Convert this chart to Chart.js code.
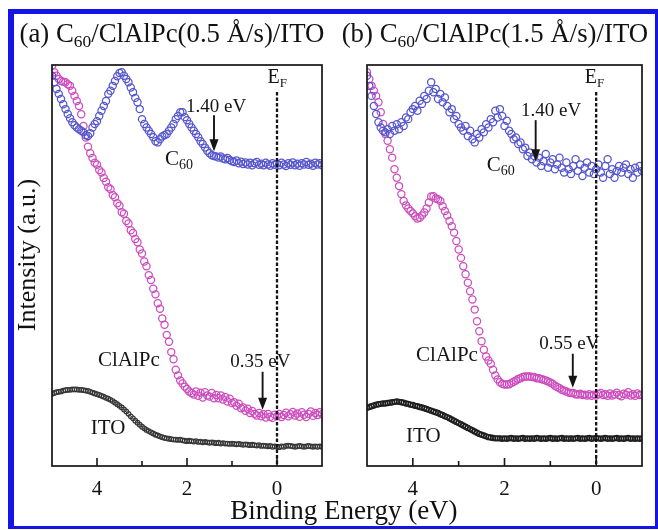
<!DOCTYPE html>
<html>
<head>
<meta charset="utf-8">
<title>UPS spectra C60/ClAlPc/ITO</title>
<script src="https://cdn.jsdelivr.net/npm/chart.js@4.4.1/dist/chart.umd.min.js"></script>
<style>
  html, body { margin:0; padding:0; background:#fff; }
  #wrap { position:relative; width:658px; height:530px; overflow:hidden; background:#fff;
          font-family:"Liberation Serif","Times New Roman",serif; color:#111; }
  canvas { position:absolute; top:0; }
  .txt { position:absolute; white-space:nowrap; }
  .sub { font-size:0.65em; vertical-align:-5px; line-height:1; }
  #frame { position:absolute; left:8px; top:9px; width:650px; height:520px; box-sizing:border-box;
           border-style:solid; border-color:#1414e6; border-width:5px 3px 3px 6px; pointer-events:none; }
</style>
</head>
<body>
<div id="wrap">
  <canvas id="chartA" width="335" height="530" style="left:0;width:335px;height:530px"></canvas>
  <canvas id="chartB" width="323" height="530" style="left:335px;width:323px;height:530px"></canvas>
  <div class="txt" style="left:19.5px;top:19.8px;font-size:26.8px;line-height:26.8px">(a) C<span class="sub">60</span>/ClAlPc(0.5 Å/s)/ITO</div>
  <div class="txt" style="left:341.7px;top:19.8px;font-size:26.8px;line-height:26.8px">(b) C<span class="sub">60</span>/ClAlPc(1.5 Å/s)/ITO</div>
  <div class="txt" style="left:-72.6px;top:242px;width:200px;height:26px;font-size:26px;line-height:26px;text-align:center;transform:rotate(-90deg)">Intensity (a.u.)</div>
  <div class="txt" style="left:193.9px;top:497.4px;width:300px;font-size:27px;line-height:27px;text-align:center">Binding Energy (eV)</div>
  <div id="frame"></div>
</div>
<script>
// Binding energy (eV) of each sample point
const ENERGY = [
  5.00,4.95,4.90,4.85,4.80,4.75,4.70,4.65,4.60,4.55,
  4.50,4.45,4.40,4.35,4.30,4.25,4.20,4.15,4.10,4.05,
  4.00,3.95,3.90,3.85,3.80,3.75,3.70,3.65,3.60,3.55,
  3.50,3.45,3.40,3.35,3.30,3.25,3.20,3.15,3.10,3.05,
  3.00,2.95,2.90,2.85,2.80,2.75,2.70,2.65,2.60,2.55,
  2.50,2.45,2.40,2.35,2.30,2.25,2.20,2.15,2.10,2.05,
  2.00,1.95,1.90,1.85,1.80,1.75,1.70,1.65,1.60,1.55,
  1.50,1.45,1.40,1.35,1.30,1.25,1.20,1.15,1.10,1.05,
  1.00,0.95,0.90,0.85,0.80,0.75,0.70,0.65,0.60,0.55,
  0.50,0.45,0.40,0.35,0.30,0.25,0.20,0.15,0.10,0.05,
  0.00,-0.05,-0.10,-0.15,-0.20,-0.25,-0.30,-0.35,-0.40,-0.45,
  -0.50,-0.55,-0.60,-0.65,-0.70,-0.75,-0.80,-0.85,-0.90,-0.95,
  -1.00
];

// Panel (a): 0.5 Å/s
const A_C60 = [
  97.3,95.7,94.0,92.8,91.5,90.2,89.0,87.8,86.7,85.7,
  85.0,84.4,84.0,83.6,83.2,82.5,82.3,83.0,84.4,85.3,
  86.0,87.3,88.6,89.8,91.0,92.8,93.6,94.8,96.0,97.2,
  98.0,98.2,97.3,96.5,95.7,94.4,93.2,91.8,90.7,89.0,
  86.5,85.3,84.4,83.6,82.8,82.0,81.0,80.7,81.5,82.2,
  82.5,82.8,83.6,84.4,85.3,86.5,87.3,88.2,88.2,87.0,
  86.2,85.3,84.4,83.6,82.8,82.0,81.0,80.3,79.4,78.6,
  78.0,77.5,77.3,77.2,76.9,77.2,76.7,76.5,76.8,76.3,
  76.0,75.8,76.2,75.5,75.9,75.3,75.7,75.2,75.6,75.0,
  75.5,75.8,75.1,75.4,75.0,75.6,75.2,74.9,75.5,75.1,
  75.4,75.0,75.6,75.2,74.8,75.5,75.1,75.7,75.0,75.4,
  74.9,75.5,75.2,75.8,75.1,75.4,74.9,75.6,75.2,75.5,
  75.0
];
const A_CLALPC = [
  99.8,98.2,97.3,96.5,96.0,95.8,95.7,95.2,94.8,93.6,
  92.3,91.0,89.8,87.7,84.8,81.9,79.6,78.0,76.8,75.6,
  75.1,73.8,73.2,71.8,70.9,69.5,69.0,67.6,67.0,65.5,
  64.9,63.3,62.9,61.1,60.5,58.8,58.1,56.6,55.8,54.0,
  53.0,51.0,49.8,47.6,46.4,44.2,42.8,40.6,39.2,36.8,
  35.2,32.7,31.0,28.4,26.6,24.0,22.6,21.3,20.6,19.8,
  19.2,18.6,18.2,17.8,18.6,17.5,18.3,17.1,18.4,17.6,
  17.3,18.2,16.9,17.7,16.9,17.6,16.6,17.2,16.1,16.8,
  15.7,15.9,15.0,15.5,14.4,14.6,13.8,14.3,13.2,13.7,
  13.0,12.6,13.2,12.4,12.9,12.1,13.0,12.3,12.0,12.8,
  12.4,13.0,12.2,12.7,13.3,12.4,12.9,13.5,12.6,13.1,
  12.3,13.4,12.8,12.2,13.0,13.6,12.5,13.2,12.7,13.4,
  12.9
];
const A_ITO = [
  18.0,18.2,18.4,18.5,18.6,18.8,18.9,19.0,19.0,19.1,
  19.1,19.1,19.0,19.0,18.9,18.8,18.7,18.5,18.3,18.1,
  17.9,17.7,17.5,17.3,17.0,16.8,16.5,16.2,15.8,15.4,
  15.0,14.6,14.1,13.6,13.0,12.4,11.9,11.3,10.8,10.3,
  9.8,9.4,9.0,8.7,8.4,8.1,7.8,7.6,7.4,7.2,
  7.0,6.9,6.8,6.7,6.6,6.6,6.5,6.6,6.4,6.3,
  6.2,6.3,6.2,6.1,6.2,6.0,6.1,5.9,6.0,5.9,
  5.8,5.9,5.8,5.7,5.8,5.6,5.7,5.6,5.6,5.5,
  5.6,5.5,5.4,5.5,5.4,5.3,5.4,5.3,5.2,5.3,
  5.2,5.1,5.2,5.0,5.1,5.0,4.9,5.0,4.8,4.9,
  4.8,4.7,4.9,4.8,5.0,5.1,5.0,4.9,4.8,4.9,
  5.0,4.9,4.8,4.9,5.0,4.9,4.8,4.9,4.8,4.9,
  4.8
];

// Panel (b): 1.5 Å/s
const B_C60 = [
  97.3,94.8,92.3,89.8,87.8,85.7,84.4,83.6,83.2,84.0,
  82.8,84.8,83.6,85.2,84.0,85.7,84.8,86.9,86.5,88.2,
  89.0,89.8,88.6,91.1,90.3,92.3,91.5,93.6,95.7,93.2,
  94.0,91.5,92.8,90.7,91.9,89.8,88.2,89.0,86.5,87.3,
  85.3,84.4,83.6,84.8,82.3,83.6,81.5,80.7,82.8,81.9,
  84.0,83.2,85.2,84.4,86.5,85.7,88.6,86.9,89.0,87.3,
  84.8,86.1,83.6,82.8,81.5,81.9,80.3,80.7,79.0,79.4,
  77.3,78.2,76.5,77.3,75.7,76.9,74.8,76.0,77.8,74.4,
  75.7,76.5,74.0,75.2,76.9,74.4,73.2,75.7,74.0,72.8,
  74.8,76.5,73.6,75.2,72.3,74.4,75.7,73.2,74.8,72.8,
  74.0,75.2,73.2,71.9,74.8,76.5,72.8,74.0,71.9,73.6,
  74.8,73.2,74.4,75.2,72.8,74.0,71.9,74.4,73.2,74.8,
  73.6
];
const B_CLALPC = [
  98.2,96.5,94.8,93.6,92.3,90.7,88.2,85.3,82.8,81.1,
  79.0,76.9,74.0,71.9,69.8,67.8,66.1,65.0,64.2,63.6,
  63.0,62.3,61.7,61.9,62.5,63.2,64.2,65.7,67.2,67.3,
  66.7,66.5,66.1,64.8,63.6,62.5,61.1,59.8,58.2,56.1,
  54.0,51.9,49.8,47.8,45.7,43.6,41.5,39.0,36.1,33.6,
  31.1,29.0,27.3,26.3,25.5,24.0,22.6,21.6,20.9,20.5,
  20.3,20.3,20.4,20.7,21.0,21.3,21.7,21.9,22.2,22.3,
  22.3,22.3,22.2,22.2,21.9,21.9,21.7,21.5,21.3,21.1,
  20.8,20.5,20.0,19.7,19.4,19.0,18.8,18.6,18.3,18.2,
  18.2,17.9,17.8,18.0,17.7,17.8,17.6,17.9,17.5,17.8,
  17.6,17.9,18.2,17.7,17.9,17.5,18.1,17.6,17.8,18.3,
  17.7,17.4,18.0,17.8,18.4,17.6,17.9,17.5,18.1,17.7,
  17.8
];
const B_ITO = [
  14.5,14.7,14.9,15.1,15.3,15.4,15.5,15.6,15.6,15.7,
  15.8,15.9,16.0,16.1,16.0,15.9,15.8,15.6,15.5,15.3,
  15.2,15.0,14.9,14.7,14.6,14.4,14.2,14.0,13.8,13.6,
  13.4,13.2,12.9,12.7,12.4,12.2,11.9,11.6,11.3,11.0,
  10.7,10.4,10.1,9.8,9.5,9.2,8.9,8.6,8.3,8.0,
  7.8,7.6,7.4,7.2,7.1,7.0,6.9,6.9,6.9,6.8,
  6.9,6.8,6.9,7.0,6.8,6.9,6.8,6.9,7.0,6.8,
  6.9,6.8,6.9,6.8,7.0,6.9,6.8,6.9,6.8,6.9,
  7.0,6.8,6.9,6.8,6.9,7.0,6.8,6.9,6.8,6.9,
  6.8,6.9,7.0,6.8,6.9,6.8,6.9,7.0,6.8,6.9,
  7.0,6.9,6.8,6.9,7.0,6.8,6.9,6.8,6.9,7.0,
  6.8,6.9,6.8,6.9,7.0,6.8,6.9,6.8,6.9,6.8,
  6.9
];

const X_TICK_LABELS = ['4', '2', '0'];

// Annotations (positions given in data units: eV, intensity)
const ANNOT = {
  chartA: {
    ef: { x: 0, top: 93.25 },
    arrows: [ { x: 1.40, y0: 87.5, y1: 78.5 }, { x: 0.32, y0: 23.5, y1: 14.0 } ],
    labels: [
      { t: 'E', s: 'F', x: 0.21, y: 95.5, size: 20, subSize: 13, drop: 4 },
      { t: '1.40 eV', x: 2.02, y: 88.25, size: 19 },
      { t: 'C', s: '60', x: 2.49, y: 75.0, size: 21, subSize: 14, drop: 4 },
      { t: 'ClAlPc', x: 3.98, y: 25.0, size: 21 },
      { t: '0.35 eV', x: 1.04, y: 24.75, size: 19 },
      { t: 'ITO', x: 4.14, y: 8.0, size: 21 }
    ]
  },
  chartB: {
    ef: { x: 0, top: 93.25 },
    arrows: [ { x: 1.32, y0: 86.25, y1: 76.0 }, { x: 0.51, y0: 28.0, y1: 19.5 } ],
    labels: [
      { t: 'E', s: 'F', x: 0.25, y: 95.5, size: 20, subSize: 13, drop: 4 },
      { t: '1.40 eV', x: 1.64, y: 87.25, size: 19 },
      { t: 'C', s: '60', x: 2.39, y: 73.5, size: 21, subSize: 14, drop: 4 },
      { t: 'ClAlPc', x: 3.93, y: 26.25, size: 21 },
      { t: '0.55 eV', x: 1.24, y: 29.25, size: 19 },
      { t: 'ITO', x: 4.15, y: 6.0, size: 21 }
    ]
  }
};

const FONT = '"Liberation Serif", "Times New Roman", serif';

const annotPlugin = {
  id: 'annot',
  afterDatasetsDraw(chart) {
    const o = ANNOT[chart.canvas.id];
    const ctx = chart.ctx, a = chart.chartArea, xs = chart.scales.x, ys = chart.scales.y;
    ctx.save();
    ctx.strokeStyle = '#151515';
    ctx.fillStyle = '#151515';
    // plot frame
    ctx.lineWidth = 1.7;
    ctx.strokeRect(a.left, a.top, a.right - a.left, a.bottom - a.top);
    // inward ticks on the bottom axis
    ctx.lineWidth = 1.6;
    xs.ticks.forEach(t => {
      if (t.value <= xs.min || t.value >= xs.max) return;
      const px = xs.getPixelForValue(t.value);
      const len = (Math.abs(t.value) % 2 === 0) ? 8 : 5;
      ctx.beginPath(); ctx.moveTo(px, a.bottom); ctx.lineTo(px, a.bottom - len); ctx.stroke();
    });
    // Fermi level dotted line
    const ex = xs.getPixelForValue(o.ef.x);
    ctx.setLineDash([3.5, 2]);
    ctx.lineWidth = 2.3;
    ctx.beginPath(); ctx.moveTo(ex, ys.getPixelForValue(o.ef.top)); ctx.lineTo(ex, a.bottom); ctx.stroke();
    ctx.setLineDash([]);
    // arrows
    ctx.lineWidth = 1.9;
    o.arrows.forEach(r => {
      const px = xs.getPixelForValue(r.x), p0 = ys.getPixelForValue(r.y0), p1 = ys.getPixelForValue(r.y1);
      ctx.beginPath(); ctx.moveTo(px, p0); ctx.lineTo(px, p1 - 10); ctx.stroke();
      ctx.beginPath(); ctx.moveTo(px - 4.5, p1 - 12); ctx.lineTo(px + 4.5, p1 - 12); ctx.lineTo(px, p1); ctx.closePath(); ctx.fill();
    });
    // text labels
    ctx.textBaseline = 'alphabetic';
    ctx.textAlign = 'left';
    o.labels.forEach(l => {
      const px = xs.getPixelForValue(l.x), py = ys.getPixelForValue(l.y);
      ctx.font = l.size + 'px ' + FONT;
      ctx.fillText(l.t, px, py);
      if (l.s) {
        const w = ctx.measureText(l.t).width;
        ctx.font = l.subSize + 'px ' + FONT;
        ctx.fillText(l.s, px + w, py + l.drop);
      }
    });
    ctx.restore();
  }
};

function points(ys) { return ENERGY.map((e, i) => ({ x: e, y: ys[i] })); }
function series(label, ys, color, r, bw) {
  return {
    label, data: points(ys), showLine: false,
    pointStyle: 'circle', pointRadius: r, pointHoverRadius: r,
    pointBorderWidth: bw, pointBorderColor: color, pointBackgroundColor: 'rgba(255,255,255,0)'
  };
}

function makeChart(id, c60, clalpc, ito, pad, itoStyle) {
  return new Chart(document.getElementById(id), {
    type: 'scatter',
    data: {
      datasets: [
        series('C60', c60, 'rgb(85,85,205)', 3.6, 1.25),
        series('ClAlPc', clalpc, 'rgb(205,75,190)', 3.6, 1.25),
        series('ITO', ito, itoStyle.color, itoStyle.r, itoStyle.bw)
      ]
    },
    options: {
      responsive: false,
      animation: false,
      layout: { padding: pad },
      plugins: { legend: { display: false }, tooltip: { enabled: false } },
      scales: {
        x: {
          type: 'linear', reverse: true, min: -1, max: 5,
          grid: { display: false }, border: { display: false },
          afterFit: s => { s.height = 40; },
          ticks: {
            stepSize: 1, autoSkip: false, maxRotation: 0, padding: 3,
            color: '#111', font: { family: FONT, size: 21 },
            callback: v => X_TICK_LABELS.includes(String(v)) ? String(v) : ''
          }
        },
        y: { display: false, min: 0, max: 100 }
      }
    },
    plugins: [annotPlugin]
  });
}

makeChart('chartA', A_C60, A_CLALPC, A_ITO, { left: 52, right: 13, top: 65, bottom: 24 },
          { color: 'rgb(55,55,55)', r: 2.3, bw: 1.2 });
makeChart('chartB', B_C60, B_CLALPC, B_ITO, { left: 32, right: 16, top: 65, bottom: 24 },
          { color: 'rgb(30,30,30)', r: 2.5, bw: 1.4 });
</script>
</body>
</html>
